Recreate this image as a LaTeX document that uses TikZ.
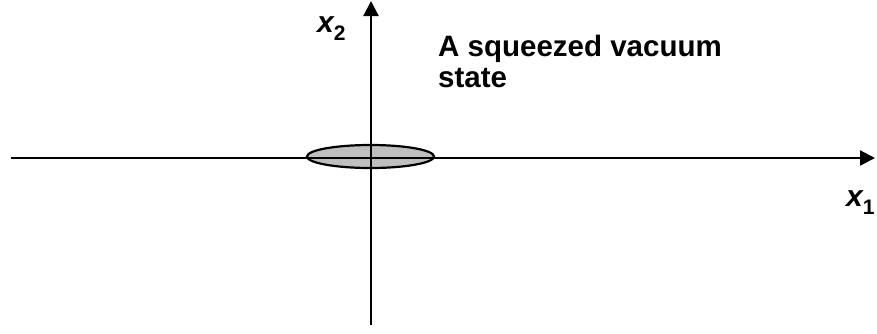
\documentclass[tikz,border=0pt]{standalone}
\usepackage{fontspec}
\setmainfont{Liberation Sans}
\usetikzlibrary{arrows.meta}
\tikzset{
  axis/.style={line width=2.2pt, -{Triangle[length=15pt,width=15pt]}},
  squeeze/.style={draw=black, line width=2.2pt, fill=black!25},
  lbl/.style={inner sep=0pt, font=\bfseries},
  axlbl/.style={inner sep=0pt, anchor=base west}
}
\newcommand{\axvar}[1]{{\fontsize{30}{30}\selectfont\bfseries\itshape x}\raisebox{-8pt}{\fontsize{21}{21}\selectfont\bfseries #1}}
\begin{document}
\begin{tikzpicture}[x=1pt,y=-1pt]
\useasboundingbox (0,0) rectangle (877,333);
\coordinate (hL) at (11,158);
\coordinate (hR) at (875,158);
\coordinate (vB) at (371,325);
\coordinate (vT) at (371,1);
\draw[squeeze] (370.5,156.5) ellipse [x radius=63.5pt, y radius=11.5pt];
\node[inner sep=0pt] (ell) at (370.5,156.5) {};
\draw[axis] (hL) -- (hR);
\draw[axis] (vB) -- (vT);
\node[axlbl] (xtwo) at (317,32.7) {\axvar{2}};
\node[axlbl] (xone) at (846,206.5) {\axvar{1}};
\node[lbl, anchor=base west, align=left, font=\fontsize{29.5}{31}\selectfont\bfseries] (title) at (438,87.7) {A squeezed vacuum\\state};
\end{tikzpicture}
\end{document}
